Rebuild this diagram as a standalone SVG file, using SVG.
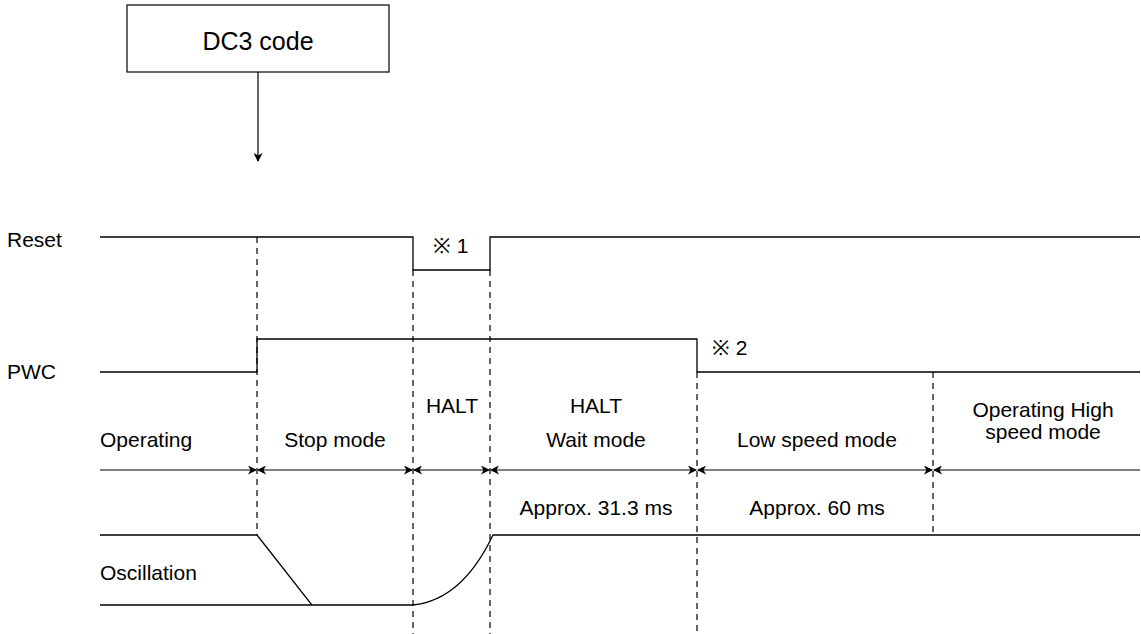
<svg xmlns="http://www.w3.org/2000/svg" width="1141" height="634" viewBox="0 0 1141 634">
<style>
text{font-family:"Liberation Sans",Arial,sans-serif;font-size:21px;fill:#000}
.sig{fill:none;stroke:#000;stroke-width:1.3}
.dash{fill:none;stroke:#000;stroke-width:1.2;stroke-dasharray:6,5}
.arr{fill:none;stroke:#000;stroke-width:1.2}
.m{text-anchor:middle}
</style>
<defs>
<marker id="ah" markerWidth="9" markerHeight="9" refX="8" refY="4.5" orient="auto-start-reverse" markerUnits="userSpaceOnUse">
<path d="M0,0 L9,4.5 L0,9 L2.5,4.5 Z" fill="#000"/>
</marker>
</defs>
<g id="dc3">
<rect x="127" y="5" width="262" height="67" fill="#fff" stroke="#000" stroke-width="1.2"/>
<text x="258" y="50" class="m" style="font-size:25px">DC3 code</text>
</g>
<g id="labels">
<text x="7" y="247">Reset</text>
<text x="7" y="379">PWC</text>
<text x="100" y="580">Oscillation</text>
<text x="433" y="253">※ 1</text>
<text x="712" y="355">※ 2</text>
<text x="100" y="447">Operating</text>
<text x="335" y="447" class="m">Stop mode</text>
<text x="452" y="413" class="m">HALT</text>
<text x="596" y="413" class="m">HALT</text>
<text x="596" y="447" class="m">Wait mode</text>
<text x="817" y="447" class="m">Low speed mode</text>
<text x="1043" y="417" class="m">Operating High</text>
<text x="1043" y="439" class="m">speed mode</text>
<text x="596" y="515" class="m">Approx. 31.3 ms</text>
<text x="817" y="515" class="m">Approx. 60 ms</text>
</g>
<g id="signals">
<polyline class="sig" points="100,237 413,237 413,270 490,270 490,237 1140,237"/>
<polyline class="sig" points="100,372 257,372 257,339 697,339 697,372 1140,372"/>
<path class="sig" d="M100,535 L257,535 L312,605 L100,605 M312,605 L413,605 Q462,600 493,535 L1140,535"/>
</g>
<g id="connectors">
<line class="arr" x1="258" y1="72" x2="258" y2="161" marker-end="url(#ah)"/>
<line class="dash" x1="257" y1="237" x2="257" y2="535"/>
<line class="dash" x1="413" y1="270" x2="413" y2="634"/>
<line class="dash" x1="490" y1="270" x2="490" y2="634"/>
<line class="dash" x1="697" y1="372" x2="697" y2="634"/>
<line class="dash" x1="933" y1="372" x2="933" y2="535"/>
<line class="arr" x1="100" y1="470" x2="256" y2="470" marker-end="url(#ah)"/>
<line class="arr" x1="258" y1="470" x2="412" y2="470" marker-start="url(#ah)" marker-end="url(#ah)"/>
<line class="arr" x1="414" y1="470" x2="489" y2="470" marker-start="url(#ah)" marker-end="url(#ah)"/>
<line class="arr" x1="491" y1="470" x2="696" y2="470" marker-start="url(#ah)" marker-end="url(#ah)"/>
<line class="arr" x1="698" y1="470" x2="932" y2="470" marker-start="url(#ah)" marker-end="url(#ah)"/>
<line class="arr" x1="934" y1="470" x2="1140" y2="470" marker-start="url(#ah)"/>
</g>
</svg>
